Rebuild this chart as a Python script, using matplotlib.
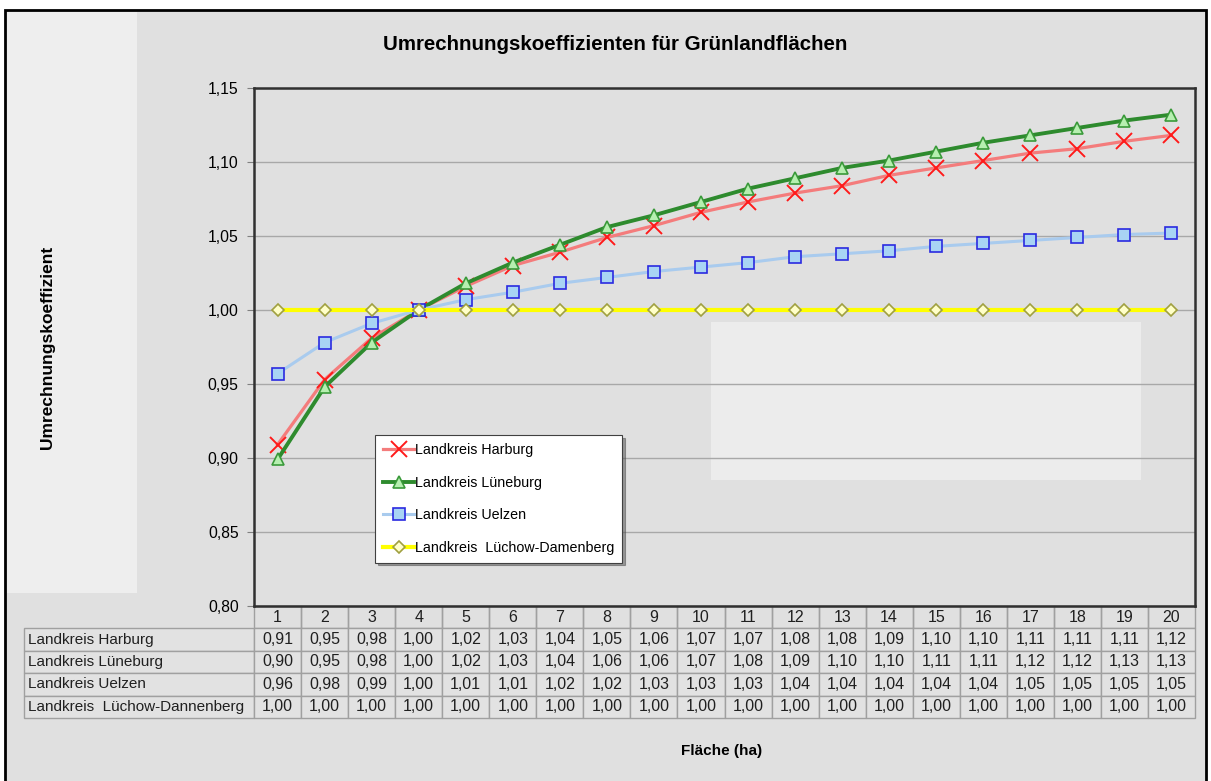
import matplotlib
matplotlib.use("Agg")
import matplotlib.pyplot as plt
import matplotlib.transforms as mtransforms
from matplotlib.patches import Rectangle
import numpy as np

plt.rcParams['font.family'] = ['Liberation Sans', 'DejaVu Sans']

# Fläche in ha
flaeche = list(range(1, 21))

harburg = [0.909, 0.953, 0.981, 1.000, 1.016, 1.030, 1.039, 1.049, 1.057, 1.066,
           1.073, 1.079, 1.084, 1.091, 1.096, 1.101, 1.106, 1.109, 1.114, 1.118]
lueneburg = [0.899, 0.948, 0.978, 1.000, 1.018, 1.032, 1.044, 1.056, 1.064, 1.073,
             1.082, 1.089, 1.096, 1.101, 1.107, 1.113, 1.118, 1.123, 1.128, 1.132]
uelzen = [0.957, 0.978, 0.991, 1.000, 1.007, 1.012, 1.018, 1.022, 1.026, 1.029,
          1.032, 1.036, 1.038, 1.040, 1.043, 1.045, 1.047, 1.049, 1.051, 1.052]
luechow = [1.00] * 20

legend_names = ['Landkreis Harburg', 'Landkreis Lüneburg', 'Landkreis Uelzen',
                'Landkreis  Lüchow-Damenberg']
table_names = ['Landkreis Harburg', 'Landkreis Lüneburg', 'Landkreis Uelzen',
               'Landkreis  Lüchow-Dannenberg']

W, H = 1211, 781
fig = plt.figure(figsize=(W / 100, H / 100), dpi=100)
fig.patch.set_facecolor('white')


def px(x0, y0, x1, y1):
    # pixel box (from top-left) -> figure fraction [left, bottom, width, height]
    return [x0 / W, 1 - y1 / H, (x1 - x0) / W, (y1 - y0) / H]


# outer frame and light side panel
l, b, w, h = px(5, 10, 1206, 790)
fig.patches.append(Rectangle((l, b), w, h, transform=fig.transFigure,
                             facecolor='#e0e0e0', edgecolor='black', lw=2, zorder=-2))
l, b, w, h = px(7, 12, 137, 593)
fig.patches.append(Rectangle((l, b), w, h, transform=fig.transFigure,
                             facecolor='#eeeeee', edgecolor='none', zorder=-1))

ax = fig.add_axes(px(254, 88, 1195, 606))
ax.set_facecolor('#e0e0e0')

# light patch inside the plot area
ax.add_patch(Rectangle((0.4857, 0.243), 0.457, 0.305, transform=ax.transAxes,
                       facecolor='#ececec', edgecolor='none', zorder=0.2))

styles = [
    dict(color='#f47c7c', lw=2.3, marker='x', ms=11, mec='#ff1a1a', mew=1.4),
    dict(color='#2e8b2e', lw=2.8, marker='^', ms=8.5, mfc='#b6efb0', mec='#3a9a3a', mew=1.2),
    dict(color='#a9cbee', lw=2.2, marker='s', ms=8, mfc='#a8d4f4', mec='#2a2ae0', mew=1.2),
    dict(color='#ffff00', lw=3.0, marker='D', ms=6, mfc='#ffffc8', mec='#a0a040', mew=1.2),
]
series = [harburg, lueneburg, uelzen, luechow]
for vals, name, st in zip(series, legend_names, styles):
    ax.plot(flaeche, vals, label=name, zorder=3, **st)

ax.set_xlim(0.5, 20.5)
ax.set_ylim(0.80, 1.15)
ax.set_yticks(np.arange(0.80, 1.151, 0.05))
ax.yaxis.set_major_formatter(lambda v, pos: f"{v:.2f}".replace('.', ','))
ax.set_xticks([])
ax.tick_params(axis='y', labelsize=11.3, length=5, color='#808080', pad=6)
ax.grid(axis='y', color='#a8a8a8', lw=1)
ax.set_axisbelow(True)
for side, sp in ax.spines.items():
    sp.set_color('#303030')
    sp.set_linewidth(1.8)

leg = ax.legend(loc='upper left', bbox_to_anchor=(0.1286, 0.330), borderaxespad=0,
                fontsize=10.3, frameon=True, fancybox=False, shadow=True,
                handlelength=2.2, handletextpad=0.05, labelspacing=1.3,
                borderpad=0.55)
leg.get_frame().set_edgecolor('#404040')
leg.get_frame().set_linewidth(0.8)
leg.get_frame().set_facecolor('white')
leg.set_zorder(5)

# data table below the plot
trans = mtransforms.blended_transform_factory(ax.transData, ax.transAxes)
row_h = 22.4 / 518
label_left = (24 - 254) / 941
cell_edge = '#a0a0a0'

for i, x in enumerate(flaeche):
    ax.add_patch(Rectangle((x - 0.5, -row_h), 1, row_h, transform=trans,
                           facecolor='none', edgecolor=cell_edge, lw=1, clip_on=False))
    ax.text(x, -row_h / 2, str(x), transform=trans, ha='center', va='center',
            fontsize=11.5, color='#202020')

for r, (name, vals) in enumerate(zip(table_names, series)):
    y0 = -row_h * (r + 2)
    ax.add_patch(Rectangle((label_left, y0), -label_left, row_h, transform=ax.transAxes,
                           facecolor='#e2e2e2', edgecolor=cell_edge, lw=1, clip_on=False))
    ax.text(label_left + 0.004, y0 + row_h / 2, name, transform=ax.transAxes,
            ha='left', va='center', fontsize=11, color='#202020')
    for x, v in zip(flaeche, vals):
        ax.add_patch(Rectangle((x - 0.5, y0), 1, row_h, transform=trans,
                               facecolor='#e2e2e2', edgecolor=cell_edge, lw=1, clip_on=False))
        ax.text(x, y0 + row_h / 2, f"{v:.2f}".replace('.', ','), transform=trans,
                ha='center', va='center', fontsize=11.5, color='#202020')

fig.text(615 / W, 1 - 45 / H, 'Umrechnungskoeffizienten für Grünlandflächen',
         ha='center', va='center', fontsize=14.8, fontweight='bold')
fig.text(722 / W, 1 - 751 / H, 'Fläche (ha)', ha='center', va='center',
         fontsize=11, fontweight='bold')
fig.text(48 / W, 1 - 347 / H, 'Umrechnungskoeffizient', ha='center', va='center',
         rotation=90, fontsize=12.5, fontweight='bold')

fig.savefig('out.png', dpi=100, facecolor=fig.get_facecolor())
